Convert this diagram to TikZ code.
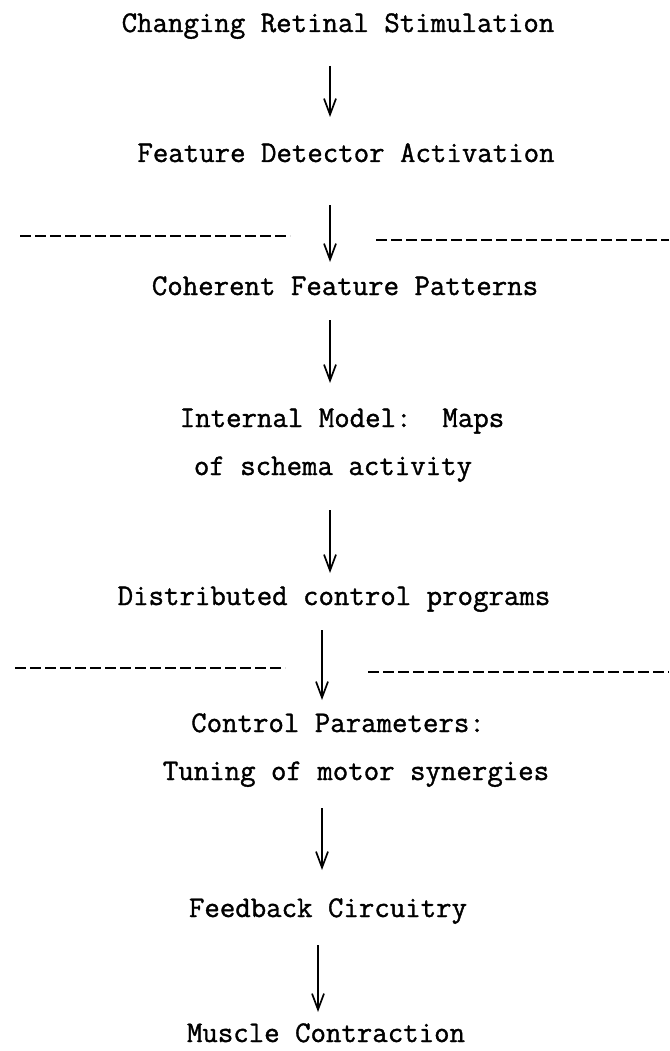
\documentclass[tikz,border=0pt]{standalone}
\usepackage{fontspec}
\newfontfamily\typewriter[FakeBold=1.2]{Latin Modern Mono}
\usetikzlibrary{arrows.meta}
\begin{document}
\begin{tikzpicture}[x=1pt,y=-1pt,
  label/.style={anchor=base,inner sep=0pt,font=\typewriter\fontsize{30}{34}\selectfont},
  flow/.style={line width=1.7pt,-{Straight Barb[length=16pt,width=12pt,line width=1.7pt]}},
  divider/.style={line width=2.4pt,dash pattern=on 11pt off 4pt}]
  \useasboundingbox[fill=white] (0,0) rectangle (669,1051);

  % vertical axes for the arrows
  \coordinate (xa) at (330,0);
  \coordinate (xb) at (322,0);
  \coordinate (xc) at (318,0);

  % stages
  \node[label] (n1)  at (338,32)   {Changing Retinal Stimulation};
  \node[label] (n2)  at (346,162)  {Feature Detector Activation};
  \node[label] (n3)  at (345,295)  {Coherent Feature Patterns};
  \node[label] (n4a) at (342,427)  {Internal Model:\ \ Maps};
  \node[label] (n4b) at (333,475)  {of schema activity};
  \node[label] (n5)  at (334,605)  {Distributed control programs};
  \node[label] (n6a) at (338,732)  {Control Parameters:};
  \node[label] (n6b) at (356,780)  {Tuning of motor synergies};
  \node[label] (n7)  at (328,917)  {Feedback Circuitry};
  \node[label] (n8)  at (326,1042) {Muscle Contraction};

  % arrows between stages
  \draw[flow,shorten <=34pt,shorten >=45pt] (n1.base -| xa) -- (n2.base -| xa);
  \draw[flow,shorten <=43pt,shorten >=33pt] (n2.base -| xa) -- (n3.base -| xa);
  \draw[flow,shorten <=25pt,shorten >=44pt] (n3.base -| xa) -- (n4a.base -| xa);
  \draw[flow,shorten <=35pt,shorten >=32pt] (n4b.base -| xa) -- (n5.base -| xa);
  \draw[flow,shorten <=25pt,shorten >=32pt] (n5.base -| xb) -- (n6a.base -| xb);
  \draw[flow,shorten <=28pt,shorten >=47pt] (n6b.base -| xb) -- (n7.base -| xb);
  \draw[flow,shorten <=28pt,shorten >=30pt] (n7.base -| xc) -- (n8.base -| xc);

  % level dividers
  \draw[divider] (20,236) -- (290,236);
  \draw[divider] (376,240) -- (669,240);
  \draw[divider] (15,668) -- (285,668);
  \draw[divider] (368,672) -- (669,672);
\end{tikzpicture}
\end{document}
